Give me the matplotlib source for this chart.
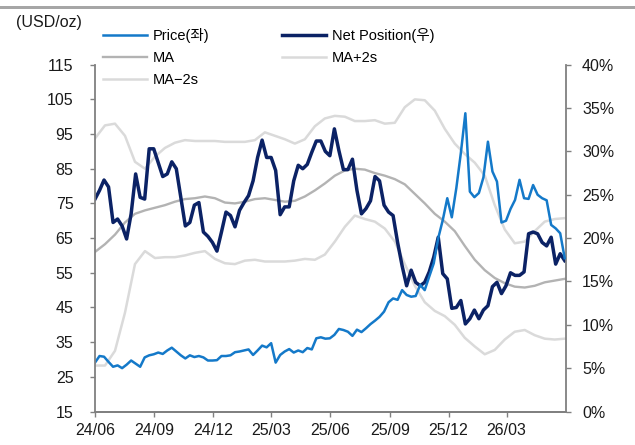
import numpy as np
import pandas as pd
import matplotlib
matplotlib.use("Agg")
import matplotlib.pyplot as plt
import matplotlib.dates as mdates
from matplotlib.patches import Rectangle
from matplotlib.lines import Line2D

plt.rcParams['font.family'] = ['Liberation Sans', 'Noto Sans CJK KR', 'DejaVu Sans']

# weekly price (USD/oz, left axis)
price = [29.1, 31.0, 30.8, 29.3, 27.9, 28.3, 27.5, 28.5, 29.7, 28.8,
         27.9, 30.6, 31.2, 31.5, 32.0, 31.6, 32.6, 33.4, 32.3, 31.2,
         30.3, 31.2, 30.7, 31.0, 30.6, 29.7, 29.7, 29.8, 31.0, 31.0,
         31.2, 32.1, 32.3, 32.6, 32.9, 31.3, 32.6, 34.0, 33.5, 34.7,
         29.1, 31.3, 32.3, 33.0, 32.0, 32.6, 32.1, 33.3, 32.9, 36.1,
         36.4, 36.0, 36.1, 37.1, 38.8, 38.5, 38.0, 36.8, 38.6, 37.9,
         39.0, 40.2, 41.2, 42.3, 43.8, 46.5, 47.6, 47.2, 50.0, 48.6,
         48.1, 48.3, 51.5, 50.0, 53.9, 57.7, 65.0, 70.2, 76.5, 71.0,
         79.4, 89.5, 101.0, 78.4, 76.8, 78.0, 82.5, 92.8, 84.2, 81.3,
         69.5, 70.0, 73.4, 76.0, 81.8, 76.5, 76.3, 80.3, 77.5, 76.5,
         75.9, 68.8, 67.8, 66.4, 59.2]

# weekly net position (%, right axis)
net_pos = [24.5, 25.5, 26.7, 25.9, 21.8, 22.2, 21.4, 19.9, 22.8, 27.4,
           24.7, 24.5, 30.3, 30.3, 28.7, 27.1, 27.4, 28.8, 28.0, 24.7,
           21.4, 21.8, 23.8, 24.1, 20.7, 20.2, 19.5, 18.5, 20.7, 23.0,
           22.6, 21.3, 23.2, 24.1, 24.9, 26.6, 29.3, 31.3, 29.3, 29.3,
           27.8, 22.7, 23.6, 23.6, 26.6, 28.4, 28.0, 28.5, 29.9, 31.2,
           31.2, 30.0, 29.5, 32.6, 30.1, 27.9, 27.9, 29.1, 25.5, 22.8,
           23.4, 24.3, 27.1, 26.6, 23.8, 23.0, 22.6, 19.5, 16.8, 14.5,
           16.3, 14.9, 14.5, 14.9, 16.1, 17.8, 20.1, 15.9, 15.3, 11.9,
           12.0, 12.8, 10.1, 10.7, 11.7, 10.7, 11.7, 12.2, 14.4, 14.9,
           13.6, 14.5, 16.0, 15.7, 15.7, 16.1, 20.5, 20.7, 20.5, 19.5,
           19.1, 20.1, 17.0, 18.2, 17.4]

# moving average band of net position (%), read at coarser steps
ma = [18.4, 19.3, 20.4, 21.8, 22.8, 23.2, 23.5, 23.8, 24.2, 24.5,
      24.6, 24.8, 24.6, 24.1, 24.0, 24.2, 24.5, 24.6, 24.4, 24.2,
      24.3, 24.8, 25.5, 26.3, 27.2, 27.8, 28.0, 27.9, 27.5, 27.2,
      26.8, 26.2, 25.1, 24.0, 22.8, 21.9, 20.8, 19.1, 17.5, 16.3,
      15.4, 14.8, 14.4, 14.3, 14.5, 14.9, 15.1, 15.3]
ma_up = [31.5, 33.0, 33.2, 31.8, 28.8, 28.0, 29.4, 30.4, 31.0, 31.3,
         31.2, 31.2, 31.2, 31.1, 31.1, 31.1, 31.3, 32.2, 31.8, 31.4,
         30.9, 31.4, 32.9, 33.8, 34.1, 34.0, 33.5, 33.5, 33.6, 33.2,
         33.3, 35.1, 36.0, 35.9, 34.7, 32.6, 30.9, 29.7, 28.7, 27.2,
         23.8, 21.0, 19.4, 19.6, 20.8, 21.9, 22.2, 22.3]
ma_dn = [5.3, 5.3, 7.0, 11.4, 17.0, 18.5, 17.7, 17.8, 17.8, 18.0,
         18.3, 18.5, 17.6, 17.1, 17.0, 17.4, 17.5, 17.3, 17.3, 17.3,
         17.4, 17.6, 17.5, 18.1, 19.6, 21.3, 22.6, 22.2, 21.9, 21.1,
         19.6, 17.0, 14.5, 12.6, 11.6, 11.0, 10.0, 8.5, 7.5, 6.6,
         7.1, 8.3, 9.2, 9.4, 8.8, 8.4, 8.3, 8.4]

weeks = pd.date_range('2024-06-01', periods=len(price), freq='7D')
band_dates = pd.date_range('2024-06-01', weeks[-1], periods=len(ma))

c_price = '#1479c9'
c_net = '#0b2265'
c_ma = '#b3b3b3'
c_band = '#dadada'
c_axis = '#808080'

fig = plt.figure(figsize=(6.35, 4.45), dpi=100)
W, H = 635, 445
ax = fig.add_axes([95 / W, 1 - 411.5 / H, (566 - 95) / W, (411.5 - 64.7) / H])
ax2 = ax.twinx()

# gray bar on top of the figure
fig.patches.append(Rectangle((0, 1 - 9 / H), 1, 2.5 / H, transform=fig.transFigure,
                             color='#a6a6a6', lw=0))

# bands and net position on the right axis
ax2.plot(band_dates, ma_up, color=c_band, lw=1.8)
ax2.plot(band_dates, ma_dn, color=c_band, lw=1.8)
ax2.plot(band_dates, ma, color=c_ma, lw=1.7)
ax2.plot(weeks, net_pos, color=c_net, lw=2.5)

# price on the left axis, drawn on top
ax.set_zorder(ax2.get_zorder() + 1)
ax.patch.set_visible(False)
ax.plot(weeks, price, color=c_price, lw=1.8)

ax.set_ylim(15, 115)
ax.set_yticks(np.arange(15, 116, 10))
ax2.set_ylim(0, 40)
ax2.set_yticks(np.arange(0, 41, 5))
ax2.set_yticklabels([f'{v}%' for v in range(0, 41, 5)])

ax.set_xlim(pd.Timestamp('2024-06-01'), pd.Timestamp('2026-06-01'))
ax.set_xticks(pd.date_range('2024-06-01', '2026-03-01', freq='3MS'))
ax.xaxis.set_major_formatter(mdates.DateFormatter('%y/%m'))

for a in (ax, ax2):
    a.spines['top'].set_visible(False)
    for s in ('left', 'right', 'bottom'):
        a.spines[s].set_color(c_axis)
        a.spines[s].set_linewidth(1.3)
ax.spines['right'].set_visible(False)
ax2.spines['left'].set_visible(False)

ax.tick_params(axis='y', direction='out', length=3.5, width=1, color=c_axis,
               labelsize=11.5, pad=12, labelcolor='#1a1a1a')
ax.tick_params(axis='x', direction='out', length=3.5, width=1, color=c_axis,
               labelsize=11.5, pad=5, labelcolor='#1a1a1a')
ax2.tick_params(axis='y', direction='out', length=3.5, width=1, color=c_axis,
                labelsize=11.5, pad=8, labelcolor='#1a1a1a')

fig.text(16 / W, 1 - 23 / H, '(USD/oz)', ha='left', va='center', fontsize=11.5,
         color='#1a1a1a')

handles = [Line2D([], [], color=c_price, lw=1.8),
           Line2D([], [], color=c_ma, lw=1.7),
           Line2D([], [], color=c_band, lw=1.8),
           Line2D([], [], color=c_net, lw=2.5),
           Line2D([], [], color=c_band, lw=1.8)]
labels = ['Price(좌)', 'MA', 'MA\u22122s', 'Net Position(우)', 'MA+2s']
fig.legend(handles, labels, loc='upper left', bbox_to_anchor=(103 / W, 1 - 28 / H),
           ncol=2, frameon=False, borderpad=0, borderaxespad=0, handlelength=3.0,
           handletextpad=0.4, columnspacing=5.0, labelspacing=0.55, fontsize=10.5)

fig.savefig('out.png', dpi=100)
